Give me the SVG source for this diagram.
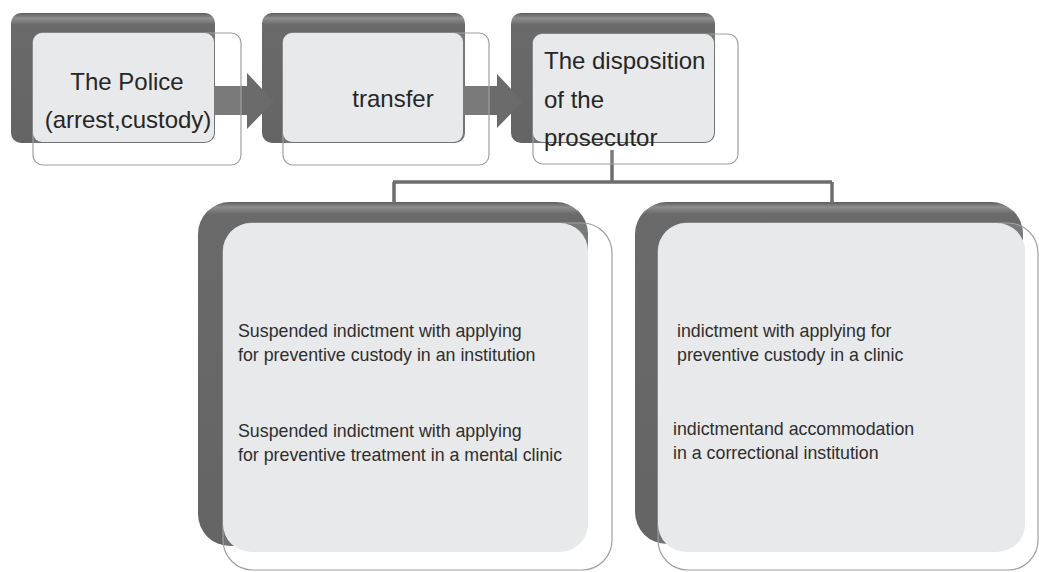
<svg xmlns="http://www.w3.org/2000/svg" width="1039" height="572" viewBox="0 0 1039 572">
<defs>
<linearGradient id="gs" x1="0" y1="0" x2="0" y2="1">
<stop offset="0" stop-color="#5c5c5c"/>
<stop offset="0.04" stop-color="#8e8e8e"/>
<stop offset="0.09" stop-color="#6a6a6a"/>
<stop offset="1" stop-color="#646464"/>
</linearGradient>
<linearGradient id="gb" x1="0" y1="0" x2="0" y2="1">
<stop offset="0" stop-color="#5c5c5c"/>
<stop offset="0.015" stop-color="#8e8e8e"/>
<stop offset="0.035" stop-color="#6a6a6a"/>
<stop offset="1" stop-color="#646464"/>
</linearGradient>
</defs>
<style>
.back-s{fill:url(#gs);}
.back-b{fill:url(#gb);}
.front{fill:#ffffff;fill-opacity:0.1;stroke:#a0a0a0;stroke-width:1.2;}
.panel{fill:#e8e9ea;}
.arrow{fill:#6b6b6b;}
.line{fill:none;stroke:#6e6e6e;stroke-width:3.5;}
.t1{font-family:"Liberation Sans",Arial,sans-serif;font-size:24px;fill:#262626;}
.t2{font-family:"Liberation Sans",Arial,sans-serif;font-size:17.8px;fill:#2e2e2e;}
</style>

<g id="backs">
<rect class="back-s" x="11" y="13" width="204" height="130" rx="10"/>
<rect class="back-s" x="262" y="13" width="203" height="130" rx="10"/>
<rect class="back-s" x="511" y="13" width="204" height="130" rx="10"/>
<rect class="back-b" x="198" y="202" width="390" height="344" rx="32"/>
<rect class="back-b" x="635" y="202" width="388" height="342" rx="32"/>
</g>

<g id="connectors">
<polygon class="arrow" points="213,86 247,86 247,73 274,101.5 247,129 247,115 213,115"/>
<polygon class="arrow" points="463,86 497,86 497,74 523,101.5 497,128 497,115 463,115"/>
<path class="line" d="M612,150 V182 M393,182 H832 M394,182 V203 M832,182 V203"/>
</g>

<g id="node-police">
<rect class="front" x="33" y="33" width="208" height="132" rx="10"/>
<rect class="panel" x="33" y="33" width="181" height="109" rx="9"/>
<text class="t1" x="127" y="90" text-anchor="middle">The Police</text>
<text class="t1" x="128" y="128" text-anchor="middle">(arrest,custody)</text>
</g>

<g id="node-transfer">
<rect class="front" x="283" y="33" width="206" height="132" rx="10"/>
<rect class="panel" x="283" y="33" width="180" height="109" rx="9"/>
<text class="t1" x="393" y="107" text-anchor="middle">transfer</text>
</g>

<g id="node-prosecutor">
<rect class="front" x="533" y="34" width="205" height="130" rx="10"/>
<rect class="panel" x="533" y="34" width="181" height="108" rx="9"/>
<text class="t1" x="544" y="69">The disposition</text>
<text class="t1" x="544" y="108">of the</text>
<text class="t1" x="544" y="146">prosecutor</text>
</g>

<g id="node-suspended">
<rect class="front" x="223" y="223" width="389" height="347" rx="30"/>
<rect class="panel" x="223" y="223" width="365" height="329" rx="28"/>
<text class="t2" x="238" y="337">Suspended indictment with applying</text>
<text class="t2" x="238" y="361">for preventive custody in an institution</text>
<text class="t2" x="238" y="437">Suspended indictment with applying</text>
<text class="t2" x="238" y="461">for preventive treatment in a mental clinic</text>
</g>

<g id="node-indictment">
<rect class="front" x="658" y="223" width="380" height="347" rx="30"/>
<rect class="panel" x="658" y="223" width="367" height="329" rx="28"/>
<text class="t2" x="677" y="337">indictment with applying for</text>
<text class="t2" x="677" y="361">preventive custody in a clinic</text>
<text class="t2" x="673" y="435">indictmentand accommodation</text>
<text class="t2" x="673" y="459">in a correctional institution</text>
</g>
</svg>
